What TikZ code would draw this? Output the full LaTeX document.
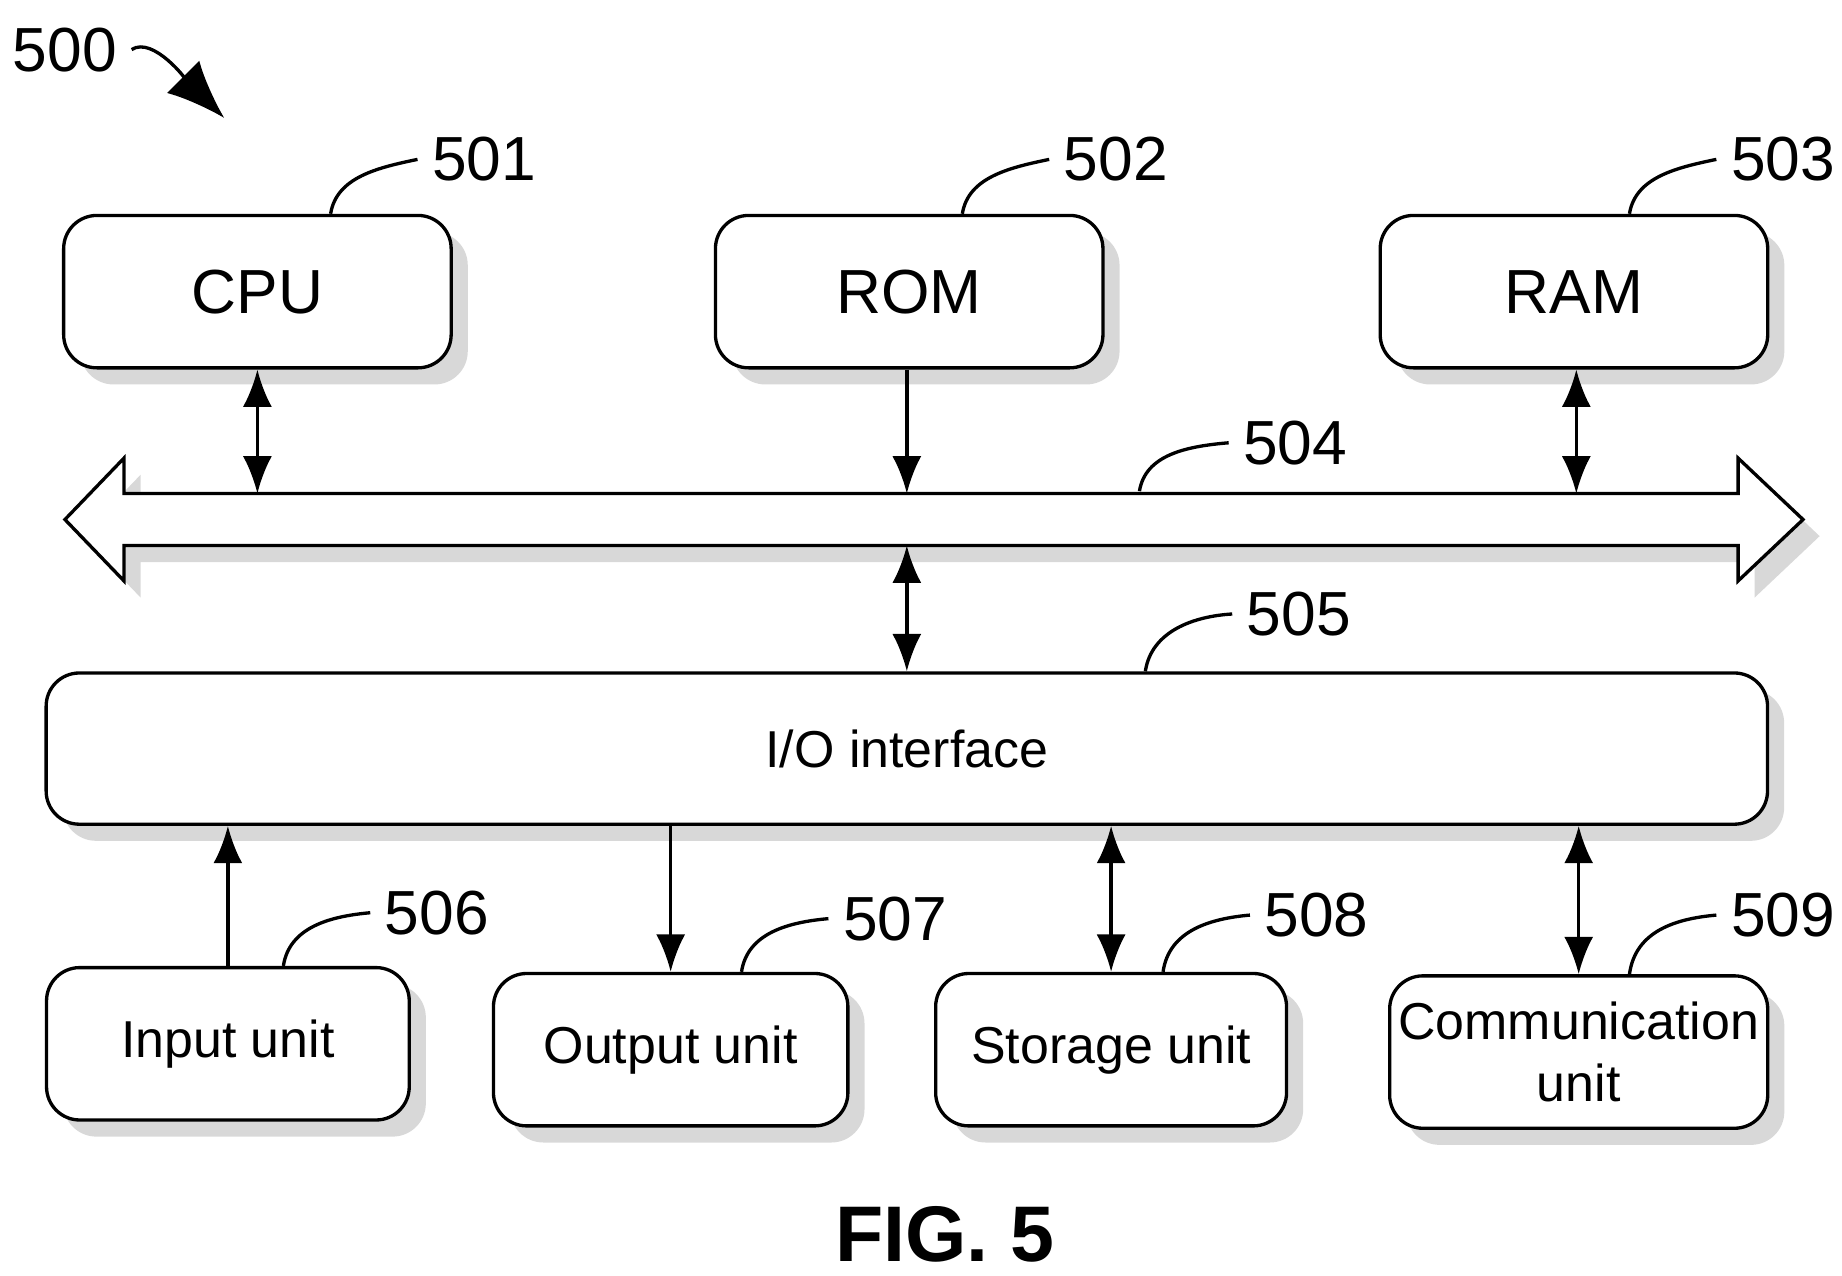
\documentclass[tikz,border=0pt]{standalone}
\usepackage{fontspec}
\setmainfont{Liberation Sans}
\usetikzlibrary{shadows,arrows.meta}
\begin{document}
\begin{tikzpicture}[x=0.01cm,y=-0.01cm,
    block/.style={draw=black, thick, rounded corners=8pt, fill=white,
      drop shadow={shadow xshift=4pt, shadow yshift=-4pt, fill=gray!60},
      align=center, inner sep=0pt},
    big/.style={block, minimum width=3.28cm, minimum height=1.29cm, font=\fontsize{15}{17}\selectfont},
    small/.style={block, minimum width=3.0cm, minimum height=1.29cm, font=\fontsize{12.5}{15}\selectfont},
    num/.style={font=\fontsize{15}{17}\selectfont},
    lead/.style={thick},
    link/.style={thick, {Latex[length=9pt,width=7pt]}-{Latex[length=9pt,width=7pt]}},
    onelink/.style={thick, -{Latex[length=9pt,width=7pt]}}
  ]
  \useasboundingbox (0,0) rectangle (1560,1080);

  % top row
  \node[big] (cpu) at (218,247) {CPU};
  \node[big] (rom) at (770,247) {ROM};
  \node[big] (ram) at (1333,247) {RAM};

  % bus 504
  \draw[thick, fill=white, drop shadow={shadow xshift=4pt, shadow yshift=-4pt, fill=gray!60}]
    (105,418) -- (1472,418) -- (1472,388) -- (1527,440) -- (1472,492) -- (1472,462)
    -- (105,462) -- (105,492) -- (55,440) -- (105,388) -- cycle;
  \coordinate (bcpu) at (218,418);
  \coordinate (brom) at (768,418);
  \coordinate (bram) at (1335,418);
  \coordinate (bio) at (768,462);
  \coordinate (b504) at (965,416);

  % I/O interface
  \node[block, minimum width=14.57cm, minimum height=1.28cm,
        font=\fontsize{12.5}{15}\selectfont] (io) at (768,634) {I/O interface};

  % bottom row
  \node[small, minimum width=3.07cm] (input) at (193,884) {Input unit};
  \node[small] (output) at (568,889) {Output unit};
  \node[small, minimum width=2.97cm] (storage) at (941,889) {Storage unit};
  \node[small, minimum width=3.2cm, text width=3.2cm] (comm) at (1337,891) {Communication\\unit};

  % connectors
  \draw[link] (cpu.south -| bcpu) -- (bcpu);
  \draw[onelink] (rom.south -| brom) -- (brom);
  \draw[link] (ram.south -| bram) -- (bram);
  \draw[link] (bio) -- (io.north -| bio);
  \draw[onelink] (input.north) -- (input.north |- io.south);
  \draw[onelink] (output.north |- io.south) -- (output.north);
  \draw[link] (storage.north |- io.south) -- (storage.north);
  \draw[link] (comm.north |- io.south) -- (comm.north);

  % reference numerals
  \node[num] (n500) at (55,42) {500};
  \node[num] (n501) at (410,135) {501};
  \node[num] (n502) at (945,135) {502};
  \node[num] (n503) at (1510,135) {503};
  \node[num] (n504) at (1097,375) {504};
  \node[num] (n505) at (1100,520) {505};
  \node[num] (n506) at (370,773) {506};
  \node[num] (n507) at (758,778) {507};
  \node[num] (n508) at (1115,775) {508};
  \node[num] (n509) at (1510,775) {509};
  \coordinate (t500) at (190,100);

  \draw[thick, -{Latex[length=14pt,width=11pt]}] (n500.east) .. controls (130,30) and (160,70) .. (t500);
  \draw[lead] (cpu.north) ++(62,0) .. controls (285,150) and (320,142) .. (n501.west);
  \draw[lead] (rom.north) ++(45,0) .. controls (820,150) and (855,142) .. (n502.west);
  \draw[lead] (ram.north) ++(47,0) .. controls (1385,150) and (1420,142) .. (n503.west);
  \draw[lead] (b504) .. controls (970,385) and (1005,378) .. (n504.west);
  \draw[lead] (io.north) ++(202,0) .. controls (975,535) and (1010,522) .. (n505.west);
  \draw[lead] (input.north) ++(47,0) .. controls (245,785) and (280,776) .. (n506.west);
  \draw[lead] (output.north) ++(60,0) .. controls (633,790) and (668,781) .. (n507.west);
  \draw[lead] (storage.north) ++(44,0) .. controls (990,788) and (1025,778) .. (n508.west);
  \draw[lead] (comm.north) ++(43,0) .. controls (1385,788) and (1420,778) .. (n509.west);

  \node[font=\fontsize{19}{21}\selectfont\bfseries] (fig) at (800,1045) {FIG. 5};
\end{tikzpicture}
\end{document}
